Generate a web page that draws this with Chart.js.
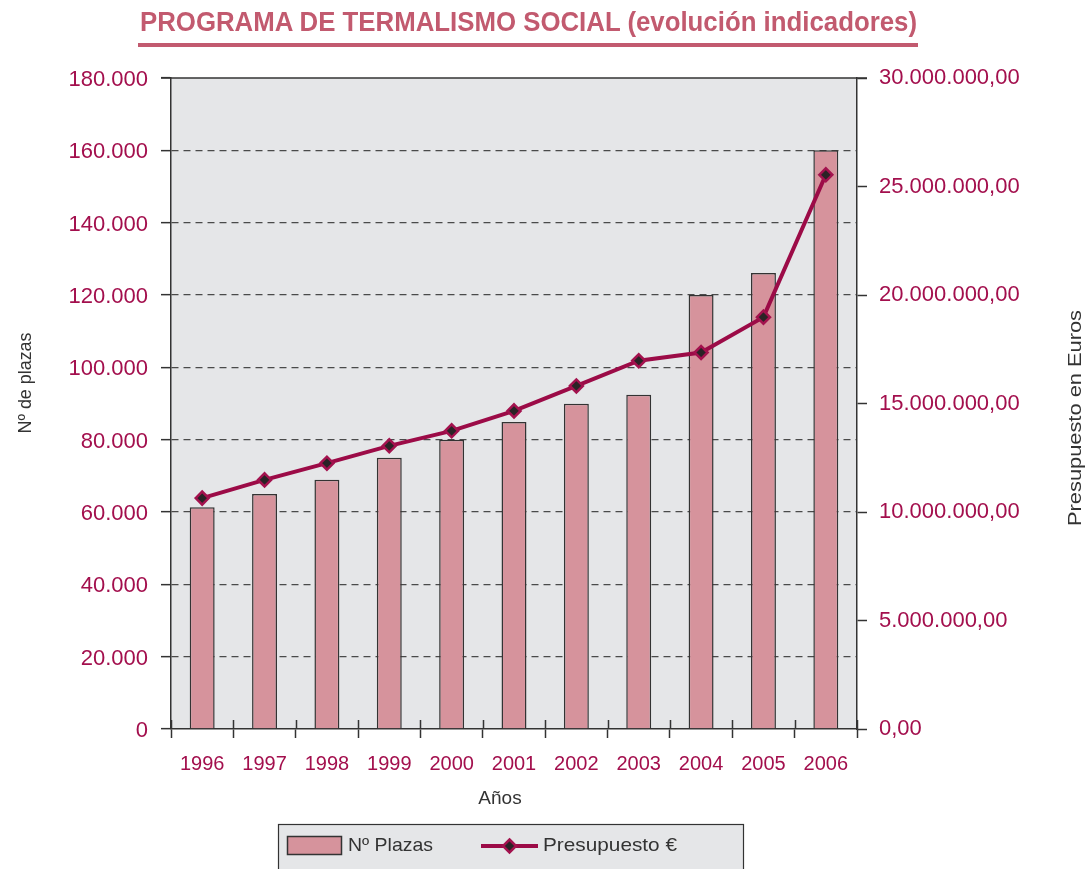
<!DOCTYPE html>
<html>
<head>
<meta charset="utf-8">
<script src="https://cdn.jsdelivr.net/npm/chart.js@4.4.1/dist/chart.umd.min.js"></script>
<style>
    html, body { margin: 0; padding: 0; background: #fff; }
    #wrap { position: relative; width: 1085px; height: 869px; overflow: hidden; }
    #chart { position: absolute; left: 0; top: 0; }
    #title {
        position: absolute; left: 140px; top: 9px; white-space: nowrap;
        font-family: "Liberation Sans Narrow", "Liberation Sans", Arial, sans-serif;
        font-weight: bold; font-size: 27px; line-height: 27px; color: #c25a6f;
        transform-origin: 0 0;
    }
    #rule { position: absolute; left: 138px; top: 43px; width: 780px; height: 4px; background: #c25a6f; }
</style>
</head>
<body>
<div id="wrap">
    <canvas id="chart" width="1085" height="869"></canvas>
    <div id="title">PROGRAMA DE TERMALISMO SOCIAL (evolución indicadores)</div>
    <div id="rule"></div>
</div>
<script>
// ── data ──────────────────────────────────────────────────────────
const years = ['1996', '1997', '1998', '1999', '2000', '2001', '2002', '2003', '2004', '2005', '2006'];
const plazas = [61300, 65000, 68900, 75000, 80000, 84900, 89900, 92400, 120000, 126100, 160000];
const presupuesto = [10640000, 11480000, 12250000, 13050000, 13740000, 14660000, 15810000, 16970000, 17350000, 18980000, 25540000];

const plazasMax = 180000, plazasStep = 20000;
const euroMax = 30000000, euroStep = 5000000;

const CRIMSON = '#a30f4d';
const LINE = '#9c0b47';
const BAR = '#d6939c';
const DARK = '#333333';
const PLOT_BG = '#e5e6e8';

// fit title to the reference width
(function () {
    const t = document.getElementById('title');
    const w = t.getBoundingClientRect().width;
    t.style.transform = 'scaleX(' + (777 / w) + ')';
})();

function miles(n) {
    return String(Math.round(n)).replace(/\B(?=(\d{3})+(?!\d))/g, '.');
}

// draws text stretched/squeezed to a given length
function fitText(ctx, text, x, y, len, rot) {
    ctx.save();
    ctx.translate(x, y);
    if (rot) ctx.rotate(rot);
    const w = ctx.measureText(text).width;
    ctx.scale(len / w, 1);
    ctx.fillText(text, 0, 0);
    ctx.restore();
}

const decor = {
    id: 'decor',
    beforeDraw(chart) {
        const { ctx, chartArea: a } = chart;
        ctx.save();
        ctx.fillStyle = PLOT_BG;
        ctx.fillRect(a.left, a.top, a.right - a.left, a.bottom - a.top);
        ctx.restore();
    },
    afterDraw(chart) {
        const { ctx, chartArea: a } = chart;
        ctx.save();
        // top frame line
        ctx.strokeStyle = DARK;
        ctx.lineWidth = 1.5;
        ctx.beginPath();
        ctx.moveTo(a.left - 10, a.top);
        ctx.lineTo(a.right + 10, a.top);
        ctx.stroke();

        // category ticks also reach into the plot a little
        const n = years.length;
        const cw = (a.right - a.left) / n;
        ctx.beginPath();
        for (let i = 0; i <= n; i++) {
            const x = Math.round(a.left + i * cw) + 0.5;
            ctx.moveTo(x, a.bottom);
            ctx.lineTo(x, a.bottom - 9);
        }
        ctx.stroke();

        // axis titles
        ctx.fillStyle = DARK;
        ctx.font = '19px "Liberation Sans", Arial, sans-serif';
        ctx.textAlign = 'center';
        ctx.textBaseline = 'alphabetic';
        fitText(ctx, 'Nº de plazas', 31, 383, 101, -Math.PI / 2);
        ctx.font = '18px "Liberation Sans", Arial, sans-serif';
        fitText(ctx, 'Presupuesto en Euros', 1081, 418, 216, -Math.PI / 2);
        ctx.font = '19px "Liberation Sans", Arial, sans-serif';
        ctx.textBaseline = 'middle';
        ctx.fillText('Años', 500, 799);

        // legend box
        ctx.fillStyle = PLOT_BG;
        ctx.fillRect(278.5, 824.5, 465, 60);
        ctx.strokeStyle = DARK;
        ctx.lineWidth = 1.2;
        ctx.strokeRect(278.5, 824.5, 465, 60);

        const ds = chart.data.datasets;
        const barDs = ds.find(d => d.type === 'bar');
        const lineDs = ds.find(d => d.type === 'line');

        ctx.fillStyle = barDs.backgroundColor;
        ctx.fillRect(287.5, 836.5, 54, 18);
        ctx.strokeStyle = barDs.borderColor;
        ctx.lineWidth = 1.5;
        ctx.strokeRect(287.5, 836.5, 54, 18);

        ctx.fillStyle = DARK;
        ctx.textAlign = 'left';
        ctx.font = '19px "Liberation Sans", Arial, sans-serif';
        fitText(ctx, barDs.label, 348, 846, 85, 0);

        ctx.strokeStyle = lineDs.borderColor;
        ctx.lineWidth = lineDs.borderWidth;
        ctx.beginPath();
        ctx.moveTo(481, 846);
        ctx.lineTo(538, 846);
        ctx.stroke();
        const r = lineDs.pointRadius;
        ctx.fillStyle = lineDs.pointBackgroundColor;
        ctx.strokeStyle = lineDs.pointBorderColor;
        ctx.lineWidth = lineDs.pointBorderWidth;
        ctx.beginPath();
        ctx.moveTo(509.5, 846 - r);
        ctx.lineTo(509.5 + r, 846);
        ctx.lineTo(509.5, 846 + r);
        ctx.lineTo(509.5 - r, 846);
        ctx.closePath();
        ctx.fill();
        ctx.stroke();

        ctx.fillStyle = DARK;
        fitText(ctx, lineDs.label, 543, 846, 134, 0);
        ctx.restore();
    }
};

new Chart(document.getElementById('chart'), {
    data: {
        labels: years,
        datasets: [
            {
                type: 'line',
                label: 'Presupuesto €',
                data: presupuesto,
                yAxisID: 'y1',
                order: 0,
                borderColor: LINE,
                borderWidth: 4,
                tension: 0,
                pointStyle: 'rectRot',
                pointRadius: 6.5,
                pointBackgroundColor: '#2a2326',
                pointBorderColor: '#a3124e',
                pointBorderWidth: 2.5
            },
            {
                type: 'bar',
                label: 'Nº Plazas',
                data: plazas,
                yAxisID: 'y',
                order: 1,
                backgroundColor: BAR,
                borderColor: DARK,
                borderWidth: 1.5,
                barPercentage: 0.4,
                categoryPercentage: 1.0
            }
        ]
    },
    options: {
        responsive: false,
        animation: false,
        layout: { padding: { left: 0, right: 0, top: 78, bottom: 0 } },
        plugins: { legend: { display: false }, title: { display: false }, tooltip: { enabled: false } },
        scales: {
            x: {
                offset: true,
                afterFit: s => { s.height = 140; },
                ticks: {
                    color: CRIMSON, padding: 14,
                    font: { family: '"Liberation Sans", Arial, sans-serif', size: 20 }
                },
                grid: { offset: true, drawOnChartArea: false, tickLength: 9, tickColor: DARK, tickWidth: 1.5 },
                border: { display: true, color: DARK, width: 1.5 }
            },
            y: {
                position: 'left',
                min: 0, max: plazasMax,
                afterFit: s => { s.width = 171; },
                ticks: {
                    stepSize: plazasStep, color: CRIMSON, padding: 13, labelOffset: 2,
                    font: { family: '"Liberation Sans", Arial, sans-serif', size: 22 },
                    callback: v => miles(v)
                },
                grid: {
                    color: c => (c.tick && (c.tick.value === 0 || c.tick.value === plazasMax)) ? 'rgba(0,0,0,0)' : '#4a4a4a',
                    lineWidth: 1.3, tickLength: 10, tickColor: DARK, tickWidth: 1.5
                },
                border: { display: true, color: DARK, width: 1.5, dash: [7, 5] }
            },
            y1: {
                position: 'right',
                min: 0, max: euroMax,
                afterFit: s => { s.width = 1085 - 857; },
                ticks: {
                    stepSize: euroStep, color: CRIMSON, padding: 12,
                    font: { family: '"Liberation Sans", Arial, sans-serif', size: 22 },
                    callback: v => miles(v) + ',00'
                },
                grid: { drawOnChartArea: false, tickLength: 10, tickColor: DARK, tickWidth: 1.5 },
                border: { display: true, color: DARK, width: 1.5 }
            }
        }
    },
    plugins: [decor]
});
</script>
</body>
</html>
